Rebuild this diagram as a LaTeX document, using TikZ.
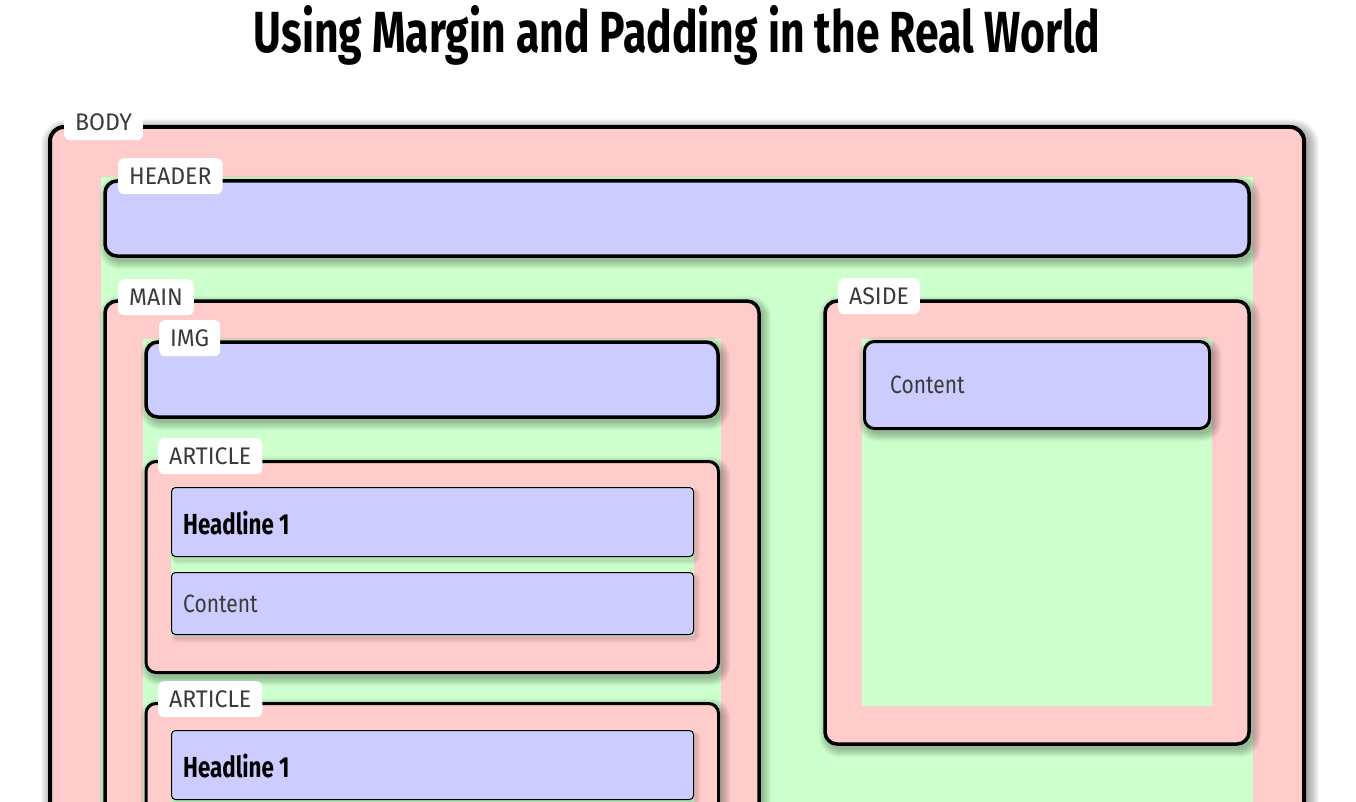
\documentclass[tikz,border=0pt]{standalone}
\usepackage{fontspec}
\setmainfont{Fira Sans}
\definecolor{pinkc}{HTML}{FFCCCC}
\definecolor{bluec}{HTML}{CCCCFF}
\definecolor{greenc}{HTML}{CCFFCC}
\definecolor{lblc}{HTML}{3A3A3A}
\newcommand{\lbltxt}[1]{\scalebox{0.96}[1]{\fontsize{24}{24}\selectfont #1}}
\newcommand{\contxt}[1]{\scalebox{0.84}[1]{\fontsize{25}{25}\selectfont #1}}
\newcommand{\headtxt}[1]{\scalebox{0.77}[1]{\fontsize{29}{29}\selectfont\bfseries #1}}
% soft shadow: x1 y1 x2 y2 radius steps
\newcommand{\softshadow}[6]{%
  \foreach \k in {1,...,#6}{%
    \fill[black,opacity=0.032,rounded corners={(#5+\k)*1pt}]
      ({#1-\k+3},{#2-\k+4}) rectangle ({#3+\k+3},{#4+\k+4});}}
\begin{document}
\begin{tikzpicture}[x=1pt,y=-1pt,
  thickbox/.style={draw=black,line width=3.5pt,rounded corners=12pt},
  medbox/.style={draw=black,line width=3pt,rounded corners=10pt},
  thinbox/.style={draw=black,line width=1pt,rounded corners=4pt,fill=bluec},
  lbl/.style={fill=white,rounded corners=6pt,text=lblc,inner xsep=11pt,minimum height=36pt,anchor=north west},
  txt/.style={anchor=west,inner sep=0pt,text=lblc}
]
\useasboundingbox (0,0) rectangle (1356,802);
\clip (0,0) rectangle (1356,802);
\fill[white] (0,0) rectangle (1356,802);

% title
\node[inner sep=0pt] (title) at (677,35) {\scalebox{0.736}[1]{\fontsize{58}{60}\selectfont\bfseries Using Margin and Padding in the Real World}};

% body
\softshadow{50}{127}{1304}{860}{14}{12}
\path[thickbox,line width=4pt,rounded corners=14pt,fill=pinkc] (50,127) rectangle (1304,860);
\fill[greenc] (101,177) rectangle (1253,860);
\node[lbl] (lbody) at (64,104) {\lbltxt{BODY}};

% header
\softshadow{105}{181}{1249}{256}{12}{9}
\path[thickbox,fill=bluec] (105,181) rectangle (1249,256);
\node[lbl] (lheader) at (118,158) {\lbltxt{HEADER}};

% main
\softshadow{105}{301}{759}{860}{12}{9}
\path[thickbox,fill=pinkc] (105,301) rectangle (759,860);
\fill[greenc] (143,339) rectangle (721,860);
\node[lbl] (lmain) at (118,279) {\lbltxt{MAIN}};

% img
\softshadow{146}{342}{718}{417}{12}{9}
\path[thickbox,fill=bluec] (146,342) rectangle (718,417);
\node[lbl] (limg) at (159,320) {\lbltxt{IMG}};

% article 1
\softshadow{146}{461.5}{718.5}{672.5}{10}{9}
\path[medbox,fill=pinkc] (146,461.5) rectangle (718.5,672.5);
\fill[greenc] (171,487) rectangle (694,636);
\softshadow{171.5}{487.5}{693.5}{556.5}{4}{4}
\path[thinbox] (171.5,487.5) rectangle (693.5,556.5);
\node[txt,text=black] (h1) at (183,523) {\headtxt{Headline 1}};
\softshadow{171.5}{572.5}{693.5}{634.5}{4}{4}
\path[thinbox] (171.5,572.5) rectangle (693.5,634.5);
\node[txt] (c1) at (183,604) {\contxt{Content}};
\node[lbl] (lart1) at (158,438) {\lbltxt{ARTICLE}};

% article 2
\softshadow{146}{703.5}{718.5}{860}{10}{9}
\path[medbox,fill=pinkc] (146,703.5) rectangle (718.5,860);
\fill[greenc] (171,730) rectangle (694,860);
\softshadow{171.5}{730.5}{693.5}{799.5}{4}{4}
\path[thinbox] (171.5,730.5) rectangle (693.5,799.5);
\node[txt,text=black] (h2) at (183,766) {\headtxt{Headline 1}};
\node[lbl] (lart2) at (158,681) {\lbltxt{ARTICLE}};

% aside
\softshadow{825}{301}{1249}{744}{12}{9}
\path[thickbox,fill=pinkc] (825,301) rectangle (1249,744);
\fill[greenc] (862,339) rectangle (1212,706);
\softshadow{864.5}{341.5}{1209.5}{428.5}{10}{9}
\path[medbox,fill=bluec] (864.5,341.5) rectangle (1209.5,428.5);
\node[txt] (c3) at (890,385) {\contxt{Content}};
\node[lbl] (laside) at (838,278) {\lbltxt{ASIDE}};
\end{tikzpicture}
\end{document}
